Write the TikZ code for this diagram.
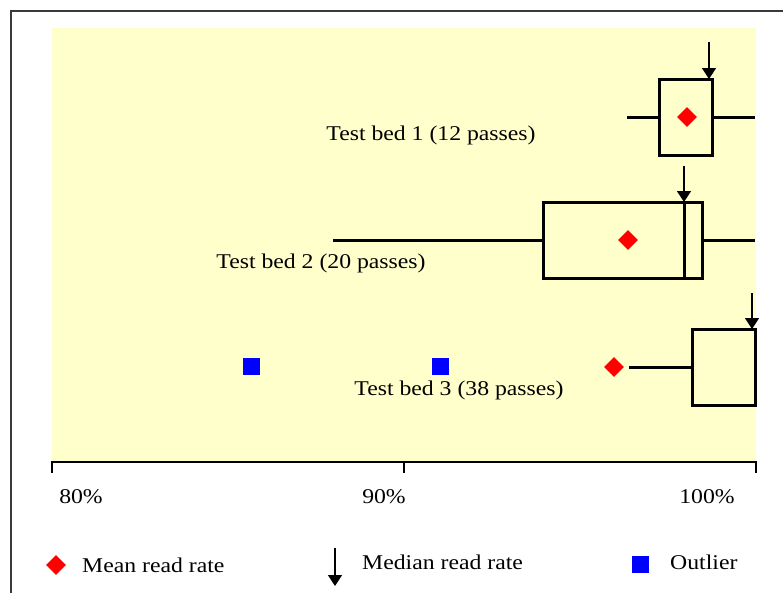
\documentclass[tikz,border=0pt]{standalone}
\usepackage{fontspec}
\setmainfont{Liberation Serif}
\usetikzlibrary{arrows.meta,shapes.geometric}
\definecolor{chartbg}{HTML}{FFFFCC}
\definecolor{framegray}{HTML}{3A3A3A}
\newcommand{\widetext}[1]{\scalebox{1.13}[1]{#1}}

\begin{document}
\begin{tikzpicture}[x=1pt,y=-1pt,
  boxline/.style={line width=3pt, line join=miter},
  whisker/.style={line width=3pt},
  medianarrow/.style={-{Triangle[width=14pt,length=11pt]}, line width=1.5pt},
  meanmark/.style={diamond, fill=red, minimum size=20pt, inner sep=0pt},
  outliermark/.style={rectangle, fill=blue, minimum size=17pt, inner sep=0pt},
  lbl/.style={font=\fontsize{21}{24}\selectfont, inner sep=0pt}]

\useasboundingbox (0,0) rectangle (783,592);
\fill[white] (0,0) rectangle (783,592);
\begin{scope}
  \clip (0,0) rectangle (783,592);
  \draw[framegray, line width=1.2pt] (11,11) rectangle (820,640);
\end{scope}

% plot area
\fill[chartbg] (52,28) rectangle (756,462);

% x axis with ticks
\coordinate (a80) at (52,462);
\coordinate (a90) at (404,462);
\coordinate (a100) at (756,462);
\draw[line width=2pt] ([yshift=-11pt]a80) -- (a80) -- (a100) -- ([yshift=-11pt]a100);
\draw[line width=2pt] (a90) -- ([yshift=-11pt]a90);
\node[lbl] (t80) at (81,497) {\widetext{80\%}};
\node[lbl] (t90) at (384,497) {\widetext{90\%}};
\node[lbl] (t100) at (707,497) {\widetext{100\%}};

% Test bed 1
\draw[boxline] (659,79) rectangle (712,155);
\draw[whisker] (627,117) -- (659,117);
\draw[whisker] (712,117) -- (755,117);
\node[meanmark] (mean1) at (687,117) {};
\coordinate (med1top) at (709,42);
\coordinate (med1) at (709,79);
\draw[medianarrow] (med1top) -- (med1);
\node[lbl] (bed1) at (431,135) {\widetext{Test bed 1 (12 passes)}};

% Test bed 2
\draw[boxline] (543,202) rectangle (702,278);
\draw[line width=3pt] (684,202) -- (684,278);
\draw[whisker] (333,240) -- (543,240);
\draw[whisker] (702,240) -- (755,240);
\node[meanmark] (mean2) at (628,240) {};
\coordinate (med2top) at (684,166);
\coordinate (med2) at (684,202);
\draw[medianarrow] (med2top) -- (med2);
\node[lbl] (bed2) at (321,263) {\widetext{Test bed 2 (20 passes)}};

% Test bed 3
\draw[boxline] (692,329) rectangle (755,405);
\draw[whisker] (629,367) -- (692,367);
\node[meanmark] (mean3) at (614,367) {};
\node[outliermark] (out1) at (251,366) {};
\node[outliermark] (out2) at (440,366) {};
\coordinate (med3top) at (752,293);
\coordinate (med3) at (752,329);
\draw[medianarrow] (med3top) -- (med3);
\node[lbl] (bed3) at (459,390) {\widetext{Test bed 3 (38 passes)}};

% legend
\node[meanmark] (legmean) at (56,565) {};
\node[lbl, anchor=west] (legmeantext) at (82,565) {\widetext{Mean read rate}};
\coordinate (legmedtop) at (335,548);
\coordinate (legmedbot) at (335,586);
\draw[medianarrow] (legmedtop) -- (legmedbot);
\node[lbl, anchor=west] (legmedtext) at (362,562) {\widetext{Median read rate}};
\node[outliermark] (legout) at (640,564) {};
\node[lbl, anchor=west] (legouttext) at (670,562) {\widetext{Outlier}};
\end{tikzpicture}
\end{document}
